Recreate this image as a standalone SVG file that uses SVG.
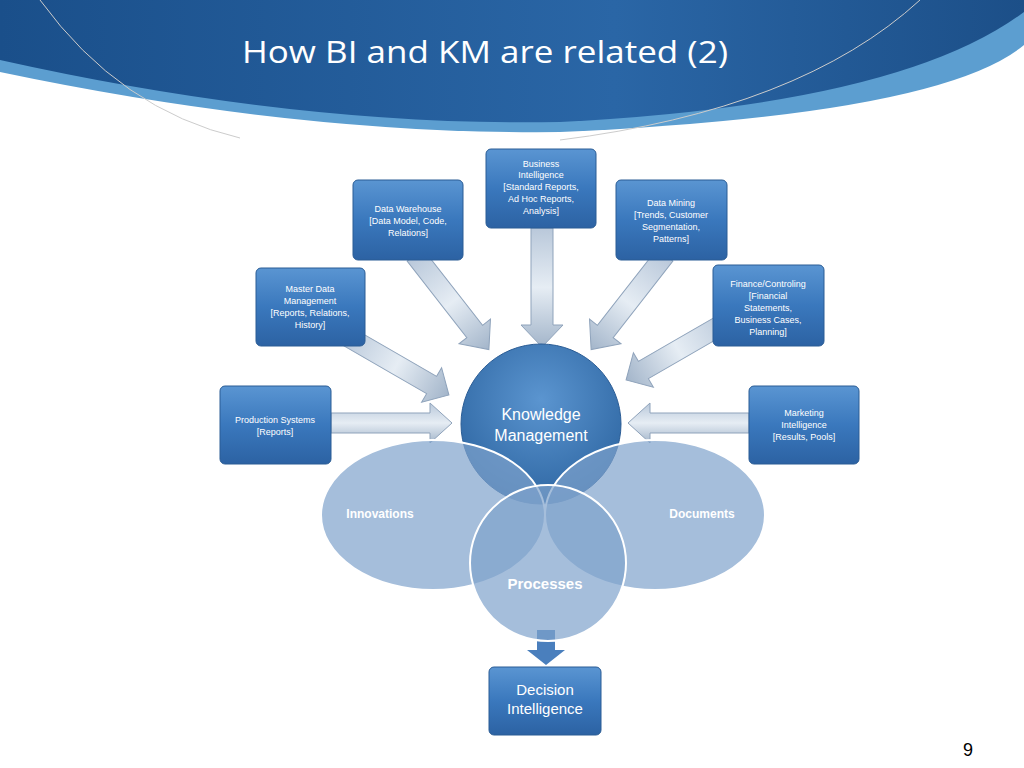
<svg xmlns="http://www.w3.org/2000/svg" width="1024" height="768" viewBox="0 0 1024 768">
<defs>
<linearGradient id="hdr" x1="0" y1="0" x2="1" y2="0"><stop offset="0" stop-color="#1a4f8a"/><stop offset="0.6" stop-color="#2a66a6"/><stop offset="1" stop-color="#1c4f88"/></linearGradient>
<linearGradient id="box" x1="0" y1="0" x2="0" y2="1"><stop offset="0" stop-color="#5a95d2"/><stop offset="0.5" stop-color="#3a78bd"/><stop offset="1" stop-color="#2c62a3"/></linearGradient>
<radialGradient id="km" cx="0.5" cy="0.35" r="0.7"><stop offset="0" stop-color="#5b95d0"/><stop offset="1" stop-color="#2b639f"/></radialGradient>
<linearGradient id="arr" x1="0" y1="0" x2="0" y2="1"><stop offset="0" stop-color="#b9c8da"/><stop offset="0.5" stop-color="#e6edf4"/><stop offset="1" stop-color="#a3b5ca"/></linearGradient>
<style>
.b{fill:url(#box);stroke:#2a5c95;stroke-width:1}
.t{font-family:"Liberation Sans",Arial,sans-serif;fill:#fff;text-anchor:middle;font-size:9px}
.a{fill:url(#arr);stroke:#8fa3bb;stroke-width:1}
.e{fill:#7fa3cc;fill-opacity:0.7;stroke:#fff;stroke-width:2}
</style>
</defs>
<rect width="1024" height="768" fill="#fff"/>
<path d="M0,0H1024V45Q940,115 560,132Q300,135 0,72Z" fill="#5c9ed0"/>
<path d="M0,0H1024V12Q900,105 560,122Q300,127 0,60Z" fill="url(#hdr)"/>
<path d="M40,0Q120,110 240,138" fill="none" stroke="#ccc" stroke-width="1"/>
<path d="M560,140Q800,110 920,0" fill="none" stroke="#ccc" stroke-width="1"/>
<text x="242" y="63" font-family="Open Sans,Liberation Sans,sans-serif" font-size="31" fill="#fff" textLength="486" lengthAdjust="spacingAndGlyphs">How BI and KM are related (2)</text>
<text x="963" y="756" font-family="Liberation Sans,Arial,sans-serif" font-size="18" fill="#000">9</text>

<g id="connectors">
<polygon class="a" points="531,228 553,228 553,325 563,325 542,347 521,325 531,325"/>
<polygon class="a" transform="rotate(-38 415 255)" points="405,255 425,255 425,352 435,352 415,375 395,352 405,352"/>
<polygon class="a" transform="rotate(38 665 255)" points="655,255 675,255 675,352 685,352 665,375 645,352 655,352"/>
<polygon class="a" transform="rotate(-60 345 335)" points="335,335 355,335 355,435 365,435 345,455 325,435 335,435"/>
<polygon class="a" transform="rotate(60 730 320)" points="720,320 740,320 740,420 750,420 730,440 710,420 720,420"/>
<polygon class="a" points="331,413 430,413 430,403 452,423 430,443 430,433 331,433"/>
<polygon class="a" points="749,413 650,413 650,403 628,423 650,443 650,433 749,433"/>
<polygon fill="#4a7fbd" points="537,630 555,630 555,650 565,650 546,665 527,650 537,650"/>
</g>

<g id="km"><circle cx="541" cy="424" r="80" fill="url(#km)" stroke="#2a5c95"/><text class="t" x="541" y="420" style="font-size:16px">Knowledge</text><text class="t" x="541" y="441" style="font-size:16px">Management</text></g>
<g id="innovations"><ellipse class="e" cx="433" cy="515" rx="112" ry="75"/><text class="t" x="380" y="518" style="font-size:12px;font-weight:bold">Innovations</text></g>
<g id="documents"><ellipse class="e" cx="655" cy="515" rx="110" ry="75"/><text class="t" x="702" y="518" style="font-size:12px;font-weight:bold">Documents</text></g>
<g id="processes"><circle class="e" cx="548" cy="563" r="78"/><text class="t" x="545" y="589" style="font-size:15px;font-weight:bold">Processes</text></g>

<g id="bi"><rect class="b" x="486" y="149" width="110" height="79" rx="5"/><text class="t" x="541" y="167">Business</text><text class="t" x="541" y="178">Intelligence</text><text class="t" x="541" y="190">[Standard Reports,</text><text class="t" x="541" y="202">Ad Hoc Reports,</text><text class="t" x="541" y="214">Analysis]</text></g>
<g id="dw"><rect class="b" x="353" y="180" width="110" height="80" rx="5"/><text class="t" x="408" y="212">Data Warehouse</text><text class="t" x="408" y="224">[Data Model, Code,</text><text class="t" x="408" y="236">Relations]</text></g>
<g id="dm"><rect class="b" x="616" y="180" width="111" height="80" rx="5"/><text class="t" x="671" y="206">Data Mining</text><text class="t" x="671" y="218">[Trends, Customer</text><text class="t" x="671" y="230">Segmentation,</text><text class="t" x="671" y="242">Patterns]</text></g>
<g id="mdm"><rect class="b" x="256" y="268" width="109" height="78" rx="5"/><text class="t" x="310" y="292">Master Data</text><text class="t" x="310" y="304">Management</text><text class="t" x="310" y="316">[Reports, Relations,</text><text class="t" x="310" y="328">History]</text></g>
<g id="fin"><rect class="b" x="713" y="265" width="111" height="81" rx="5"/><text class="t" x="768" y="287">Finance/Controling</text><text class="t" x="768" y="299">[Financial</text><text class="t" x="768" y="311">Statements,</text><text class="t" x="768" y="323">Business Cases,</text><text class="t" x="768" y="335">Planning]</text></g>
<g id="prod"><rect class="b" x="220" y="386" width="111" height="78" rx="5"/><text class="t" x="275" y="423">Production Systems</text><text class="t" x="275" y="435">[Reports]</text></g>
<g id="mkt"><rect class="b" x="749" y="386" width="110" height="78" rx="5"/><text class="t" x="804" y="416">Marketing</text><text class="t" x="804" y="428">Intelligence</text><text class="t" x="804" y="440">[Results, Pools]</text></g>
<g id="di"><rect class="b" x="489" y="667" width="112" height="68" rx="5"/><text class="t" x="545" y="695" style="font-size:15px">Decision</text><text class="t" x="545" y="714" style="font-size:15px">Intelligence</text></g>
</svg>
